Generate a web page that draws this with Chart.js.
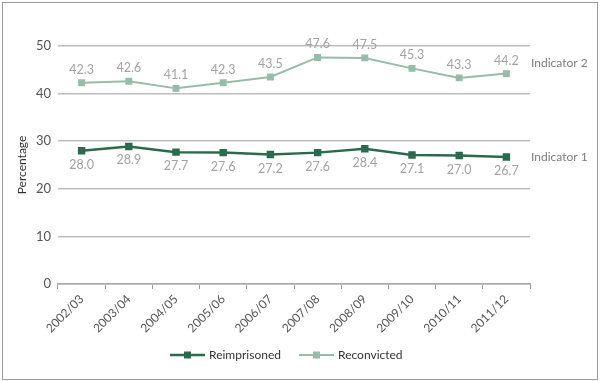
<!DOCTYPE html>
<html>
<head>
<meta charset="utf-8">
<script src="https://cdn.jsdelivr.net/npm/chart.js@4.4.1/dist/chart.umd.min.js"></script>
<style>
html,body{margin:0;padding:0;background:#fff;}
#wrap{width:600px;height:381px;position:relative;}
</style>
</head>
<body>
<div id="wrap"><canvas id="c" width="600" height="381"></canvas></div>
<script>
const categories = ["2002/03","2003/04","2004/05","2005/06","2006/07","2007/08","2008/09","2009/10","2010/11","2011/12"];
const reimprisoned = [28.0, 28.9, 27.7, 27.6, 27.2, 27.6, 28.4, 27.1, 27.0, 26.7];
const reconvicted = [42.3, 42.6, 41.1, 42.3, 43.5, 47.6, 47.5, 45.3, 43.3, 44.2];
const yTicks = [0, 10, 20, 30, 40, 50];
const seriesNames = ["Reimprisoned", "Reconvicted"];
const indicatorLabels = ["Indicator 1", "Indicator 2"];

const FONT = "Lato, 'Noto Sans', sans-serif";
const C_DARK = '#2b6b4d';
const C_LIGHT = '#97bca9';

const extras = {
  id: 'extras',
  afterDatasetsDraw(chart) {
    const ctx = chart.ctx;
    const y = chart.scales.y;
    ctx.save();
    ctx.font = '12.5px ' + FONT;
    ctx.fillStyle = '#a3a3a3';
    ctx.textAlign = 'center';
    ctx.textBaseline = 'middle';
    chart.getDatasetMeta(1).data.forEach((p, i) => {
      ctx.fillText(reconvicted[i].toFixed(1), p.x, p.y - 13);
    });
    chart.getDatasetMeta(0).data.forEach((p, i) => {
      ctx.fillText(reimprisoned[i].toFixed(1), p.x, p.y + 14);
    });
    // indicator labels
    ctx.fillStyle = '#7d7d7d';
    ctx.textAlign = 'left';
    ctx.font = '12px ' + FONT;
    ctx.fillText(indicatorLabels[1], chart.chartArea.right + 1, y.getPixelForValue(reconvicted[reconvicted.length-1]) - 10.5);
    ctx.fillText(indicatorLabels[0], chart.chartArea.right + 1, y.getPixelForValue(reimprisoned[reimprisoned.length-1]) + 0.5);
    // custom legend
    const ly = 355;
    const items = [
      {name: seriesNames[0], color: C_DARK, x0: 170, lw: 2.5},
      {name: seriesNames[1], color: C_LIGHT, x0: 299, lw: 2}
    ];
    ctx.font = '12px ' + FONT;
    items.forEach(it => {
      ctx.strokeStyle = it.color;
      ctx.lineWidth = it.lw;
      ctx.beginPath();
      ctx.moveTo(it.x0, ly);
      ctx.lineTo(it.x0 + 35, ly);
      ctx.stroke();
      ctx.fillStyle = it.color;
      ctx.fillRect(it.x0 + 17.5 - 3.5, ly - 3.5, 7, 7);
      ctx.fillStyle = '#333';
      ctx.textAlign = 'left';
      ctx.fillText(it.name, it.x0 + 39, ly);
    });
    // border
    ctx.strokeStyle = '#9a9a9a';
    ctx.lineWidth = 1;
    ctx.strokeRect(2.5, 2.5, 595, 377);
    ctx.restore();
  }
};

new Chart(document.getElementById('c'), {
  type: 'line',
  data: {
    labels: categories,
    datasets: [
      {label: seriesNames[0], data: reimprisoned, borderColor: C_DARK, backgroundColor: C_DARK,
       borderWidth: 2.5, pointStyle: 'rect', pointRadius: 3.5, pointHoverRadius: 3.5, tension: 0},
      {label: seriesNames[1], data: reconvicted, borderColor: C_LIGHT, backgroundColor: C_LIGHT,
       borderWidth: 2, pointStyle: 'rect', pointRadius: 3.5, pointHoverRadius: 3.5, tension: 0}
    ]
  },
  options: {
    responsive: false,
    animation: false,
    events: [],
    layout: {padding: {top: 46, left: 0, right: 70, bottom: 37}},
    plugins: {legend: {display: false}, tooltip: {enabled: false}},
    scales: {
      x: {
        offset: true,
        grid: {display: true, offset: true, drawOnChartArea: false, drawTicks: true, tickLength: 5, color: '#9a9a9a', lineWidth: 1},
        border: {display: true, color: '#a8a8a8', width: 1.5},
        ticks: {color: '#555', font: {family: FONT, size: 12}, maxRotation: 45, minRotation: 45, padding: 3, autoSkip: false},
        afterFit(s) { s.height = 60; }
      },
      y: {
        min: 0, max: 50,
        afterBuildTicks(s) { s.ticks = yTicks.map(v => ({value: v})); },
        grid: {color: '#bdbdbd', lineWidth: 1.5, drawTicks: false},
        border: {display: false},
        ticks: {color: '#555', font: {family: FONT, size: 13}, padding: 7},
        title: {display: true, text: 'Percentage', color: '#333', font: {family: FONT, size: 12}, padding: {top: 15, bottom: 0}},
        afterFit(s) { s.width = 58; }
      }
    }
  },
  plugins: [extras]
});
</script>
</body>
</html>
